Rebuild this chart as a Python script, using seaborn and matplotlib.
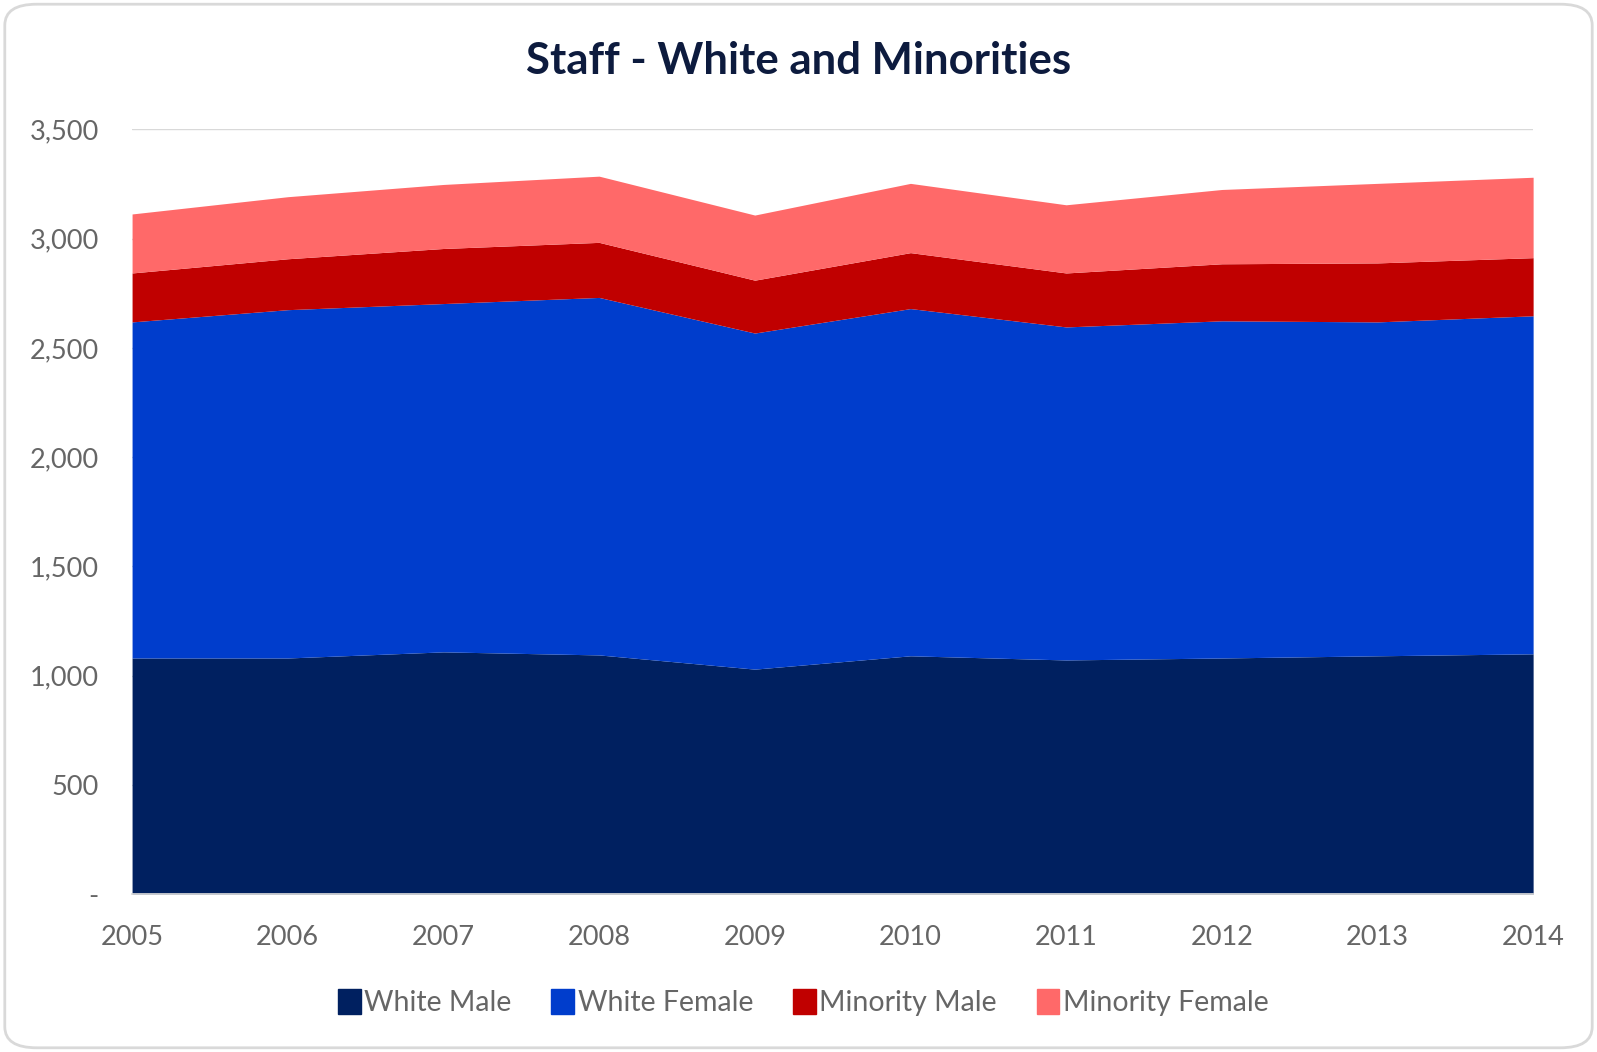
import matplotlib
matplotlib.use("Agg")
import matplotlib.pyplot as plt
import seaborn as sns
import pandas as pd
from matplotlib.patches import FancyBboxPatch, Patch
from matplotlib.ticker import FuncFormatter, MultipleLocator

years = [2005, 2006, 2007, 2008, 2009, 2010, 2011, 2012, 2013, 2014]
white_male = [1081, 1081, 1109, 1095, 1030, 1091, 1072, 1081, 1091, 1100]
white_female = [1538, 1594, 1594, 1636, 1538, 1589, 1524, 1543, 1528, 1547]
minority_male = [224, 233, 252, 252, 242, 256, 247, 261, 270, 266]
minority_female = [270, 284, 293, 303, 298, 317, 312, 340, 364, 368]
series_names = ["White Male", "White Female", "Minority Male", "Minority Female"]
colors = ["#002060", "#003DCC", "#C00000", "#FF6969"]

df = pd.DataFrame({"Year": years, "White Male": white_male, "White Female": white_female,
                   "Minority Male": minority_male, "Minority Female": minority_female})

sns.set_theme(style="white")
plt.rcParams['font.family'] = ['Lato', 'DejaVu Sans']

fig = plt.figure(figsize=(15.97, 10.52), dpi=100)
ax = fig.add_axes([0.0827, 0.150, 0.960 - 0.0827, 0.877 - 0.150])

ax.stackplot(df["Year"], [df[n] for n in series_names], colors=colors, labels=series_names,
             linewidth=0, zorder=2)

ax.set_xlim(2005, 2014)
ax.set_ylim(0, 3500)
ax.yaxis.set_major_locator(MultipleLocator(500))
ax.set_xticks(years)
ax.set_xticklabels([str(y) for y in years])
ax.yaxis.set_major_formatter(FuncFormatter(lambda v, p: "-" if v == 0 else f"{int(v):,}"))
ax.grid(axis="y", color="#D9D9D9", linewidth=1, zorder=0)
ax.grid(axis="x", visible=False)
for s in ["top", "right", "left"]:
    ax.spines[s].set_visible(False)
ax.spines["bottom"].set_color("#D9D9D9")
ax.spines["bottom"].set_zorder(3)
ax.tick_params(axis="both", length=0, labelsize=19.5, labelcolor="#666666")
ax.tick_params(axis="y", pad=24)
ax.tick_params(axis="x", pad=22)

fig.text(0.500, 0.942, "Staff - White and Minorities", ha="center", va="center",
         fontsize=31.5, fontweight="bold", color="#0D1B3E")

handles = [Patch(facecolor=c, edgecolor=c, label=n) for c, n in zip(colors, series_names)]
fig.legend(handles=handles, loc="center", bbox_to_anchor=(0.503, 0.047), ncol=4, frameon=False,
           fontsize=20.5, labelcolor="#666666", handlelength=0.8, handleheight=1.0,
           handletextpad=0.12, columnspacing=1.4)

border = FancyBboxPatch((0.003, 0.004), 0.994, 0.992, boxstyle="round,pad=0,rounding_size=0.02",
                        transform=fig.transFigure, facecolor="none", edgecolor="#D9D9D9",
                        linewidth=2, zorder=10)
fig.patches.append(border)

fig.savefig("out.png", dpi=100, facecolor="white")
